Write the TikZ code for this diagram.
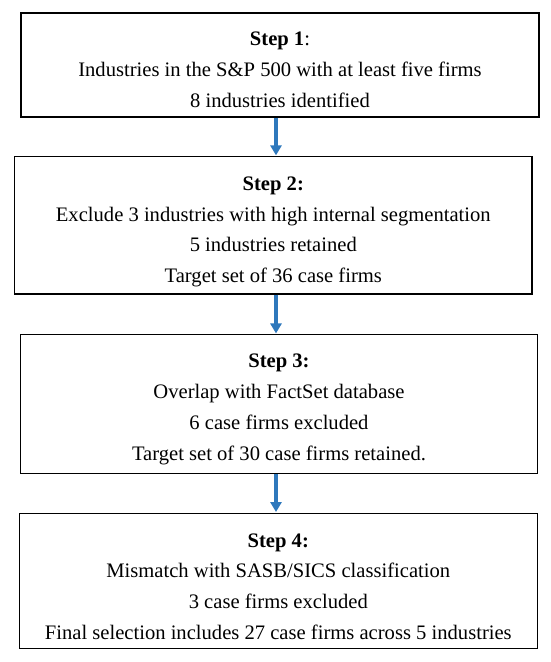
\documentclass[tikz,border=0pt]{standalone}
\usepackage{fontspec}
\setmainfont{Liberation Serif}
\usetikzlibrary{arrows.meta,calc}
\definecolor{arrowblue}{RGB}{46,120,188}
\begin{document}
\begin{tikzpicture}[x=1pt,y=-1pt,
  box/.style={draw=black, line width=1.5pt, rectangle, inner sep=0pt, fill=white},
  boxtext/.style={anchor=base, align=center, inner sep=0pt,
    font=\fontsize{20.6}{30.8}\selectfont},
  flowarrow/.style={draw=arrowblue, line width=4pt,
    -{Triangle[width=11pt,length=10pt]}, shorten >=0.5pt}]
\useasboundingbox (0,0) rectangle (550,662);
\coordinate (ax) at (276,0);
\node[box, minimum width=518pt, minimum height=104pt] (b1) at (280,65) {};
\node[box, minimum width=517.3pt, minimum height=137.3pt] (b2) at (273.3,225.3) {};
\node[box, minimum width=517.4pt, minimum height=138.6pt] (b3) at (279,404) {};
\node[box, minimum width=518pt, minimum height=135pt] (b4) at (278.3,580.8) {};
\node[boxtext] (t1) at ($(b1.south)+(0,-10.5)$) {\textbf{Step 1}:\\Industries in the S\&P 500 with at least five firms\\8 industries identified};
\node[boxtext] (t2) at ($(b2.south)+(0,-12)$) {\textbf{Step 2:}\\Exclude 3 industries with high internal segmentation\\5 industries retained\\Target set of 36 case firms};
\node[boxtext] (t3) at ($(b3.south)+(0,-14)$) {\textbf{Step 3:}\\Overlap with FactSet database\\6 case firms excluded\\Target set of 30 case firms retained.};
\node[boxtext] (t4) at ($(b4.south)+(0,-9.5)$) {\textbf{Step 4:}\\Mismatch with SASB/SICS classification\\3 case firms excluded\\Final selection includes 27 case firms across 5 industries};
\draw[flowarrow] (b1.south -| ax) -- (b2.north -| ax);
\draw[flowarrow] (b2.south -| ax) -- (b3.north -| ax);
\draw[flowarrow] (b3.south -| ax) -- (b4.north -| ax);
\end{tikzpicture}
\end{document}
